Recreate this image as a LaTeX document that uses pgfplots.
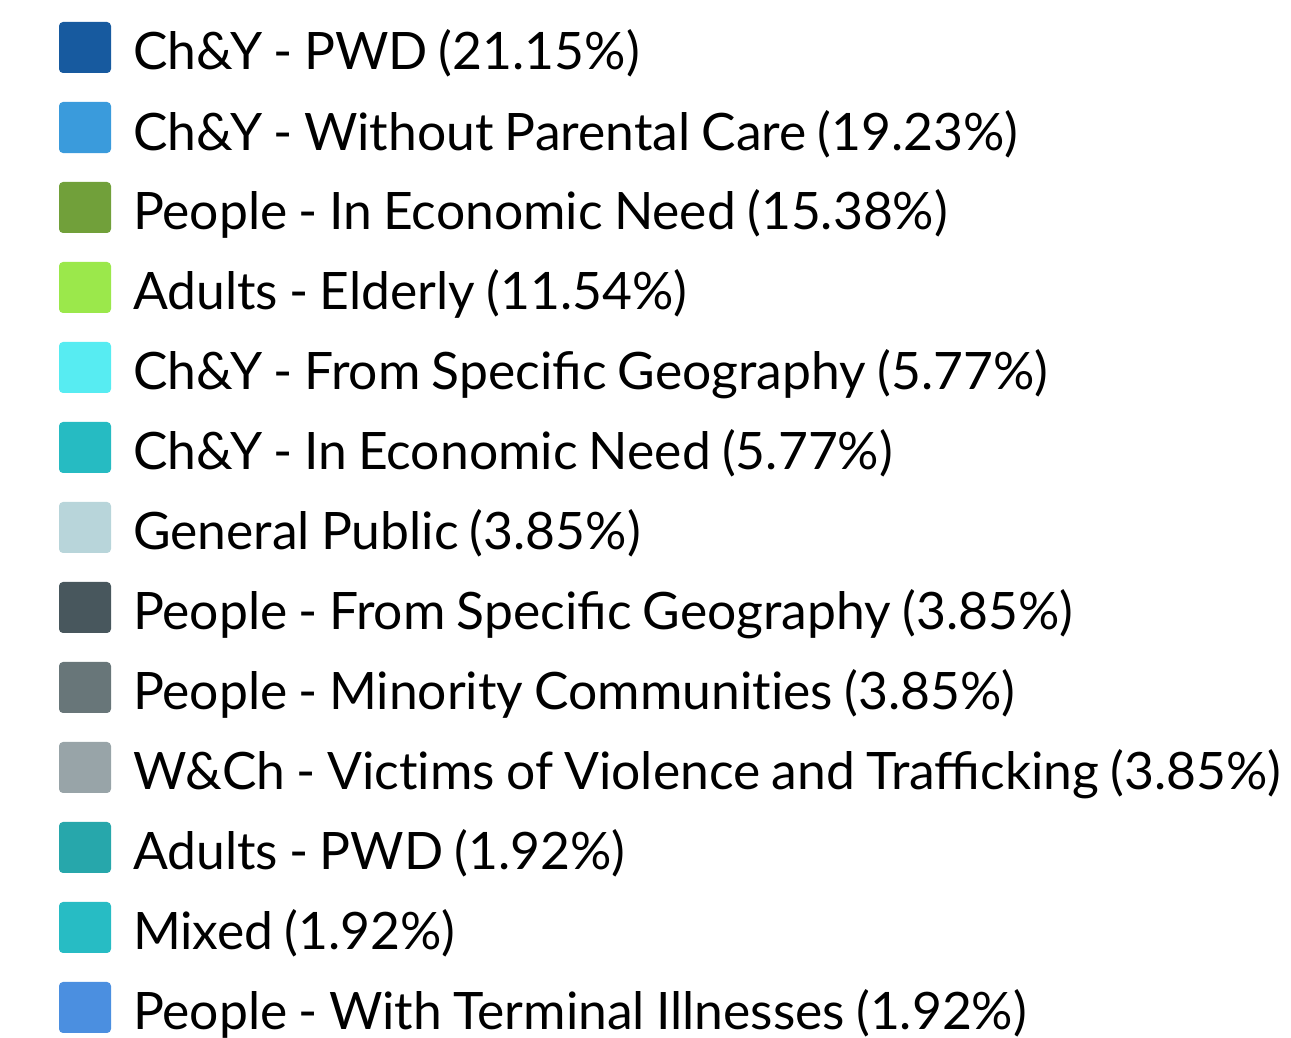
\documentclass[border=0pt]{standalone}
\usepackage{fontspec}
\setmainfont{Lato}[WordSpace=0.85]
\usepackage{pgfplots}
\pgfplotsset{compat=1.18}
\definecolor{c1}{HTML}{175A9F}
\definecolor{c2}{HTML}{3A9BDC}
\definecolor{c3}{HTML}{71A03A}
\definecolor{c4}{HTML}{9BE84B}
\definecolor{c5}{HTML}{57ECF2}
\definecolor{c6}{HTML}{26BBC2}
\definecolor{c7}{HTML}{B8D5DA}
\definecolor{c8}{HTML}{48575D}
\definecolor{c9}{HTML}{687679}
\definecolor{c10}{HTML}{98A4A8}
\definecolor{c11}{HTML}{27A7AB}
\definecolor{c12}{HTML}{27BCC4}
\definecolor{c13}{HTML}{4B8FE0}
\newcommand{\nl}{\kern0pt}
\begin{document}
\begin{tikzpicture}
\begin{axis}[
  width=645.5pt, height=519pt, scale only axis, hide axis,
  xmin=0, xmax=1, ymin=0, ymax=1,
  legend cell align=left,
  legend image code/.code={\fill[#1, draw=none, rounded corners=2pt] (0pt,-12.75pt) rectangle (26pt,12.75pt);},
  legend style={at={(0.0457,0.9788)}, anchor=north west, draw=none, fill=none,
    inner sep=0pt, outer sep=0pt, row sep=14.5pt, column sep=0pt,
    font=\fontsize{25.8pt}{30pt}\selectfont,
    nodes={inner sep=0pt, outer sep=0pt, text height=24pt, text depth=1.5pt},
    /tikz/every odd column/.style={column sep=11pt}},
]
\path (rel axis cs:0,0) rectangle (rel axis cs:1,1);
\addlegendimage{fill=c1}
\addlegendentry{Ch\&Y - PWD (21.15\%)}
\addlegendimage{fill=c2}
\addlegendentry{Ch\&Y - Without Parental Care (19.23\%)}
\addlegendimage{fill=c3}
\addlegendentry{People - In Economic Need (15.38\%)}
\addlegendimage{fill=c4}
\addlegendentry{Adults - Elderly (11.54\%)}
\addlegendimage{fill=c5}
\addlegendentry{Ch\&Y - From Specific Geography (5.77\%)}
\addlegendimage{fill=c6}
\addlegendentry{Ch\&Y - In Economic Need (5.77\%)}
\addlegendimage{fill=c7}
\addlegendentry{General Public (3.85\%)}
\addlegendimage{fill=c8}
\addlegendentry{People - From Specific Geography (3.85\%)}
\addlegendimage{fill=c9}
\addlegendentry{People - Minority Communit\nl ies (3.85\%)}
\addlegendimage{fill=c10}
\addlegendentry{W\&Ch - Vict\nl ims of Violence and Trafficking (3.85\%)}
\addlegendimage{fill=c11}
\addlegendentry{Adults - PWD (1.92\%)}
\addlegendimage{fill=c12}
\addlegendentry{Mixed (1.92\%)}
\addlegendimage{fill=c13}
\addlegendentry{People - With Terminal Illnesses (1.92\%)}
\end{axis}
\end{tikzpicture}
\end{document}
